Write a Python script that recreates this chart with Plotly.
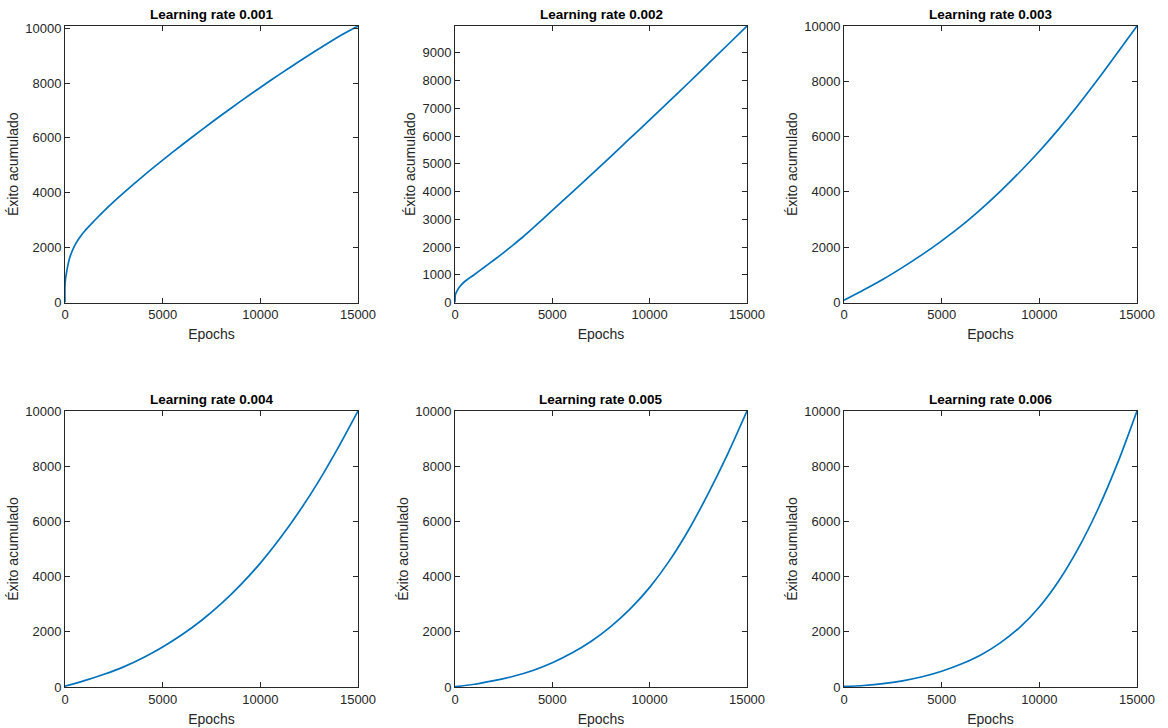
import plotly.graph_objects as go

# ---- data ----
titles = ["Learning rate 0.001", "Learning rate 0.002", "Learning rate 0.003",
          "Learning rate 0.004", "Learning rate 0.005", "Learning rate 0.006"]

x_lr1 = [0, 5, 100, 250, 500, 750, 1000, 1500, 2000, 2500, 3000, 4000, 5000, 6000, 7000,
         8000, 9000, 10000, 11000, 12000, 13000, 14000, 15000]
y_lr1 = [0, 700, 1180, 1650, 2080, 2370, 2600, 2980, 3340, 3680, 4000, 4610, 5190, 5750, 6295,
         6825, 7340, 7840, 8325, 8795, 9250, 9690, 10080]

x_lr2 = [0, 20, 85, 250, 500, 1000, 1500, 2000, 2500, 3000, 3500, 4000, 4500, 5000, 6000,
         7000, 8000, 9000, 10000, 11000, 12000, 13000, 14000, 15000]
y_lr2 = [0, 280, 390, 575, 757, 1010, 1270, 1530, 1800, 2080, 2370, 2680, 3000, 3320, 3960,
         4610, 5260, 5920, 6580, 7250, 7920, 8600, 9280, 9965]

x_step = [0, 1000, 2000, 3000, 4000, 5000, 6000, 7000, 8000, 9000, 10000, 11000, 12000,
          13000, 14000, 15000]
y_lr3 = [80, 450, 840, 1270, 1730, 2230, 2770, 3370, 4020, 4720, 5470, 6280, 7150, 8070, 9030, 10000]
y_lr4 = [30, 230, 460, 730, 1060, 1450, 1900, 2420, 3020, 3710, 4490, 5380, 6370, 7470, 8690, 10000]
y_lr5 = [10, 100, 230, 390, 600, 880, 1230, 1660, 2190, 2830, 3610, 4560, 5690, 7000, 8430, 10000]
y_lr6 = [20, 55, 120, 225, 370, 570, 830, 1160, 1600, 2160, 2900, 3850, 5030, 6440, 8100, 10000]

series = [(x_lr1, y_lr1), (x_lr2, y_lr2), (x_step, y_lr3),
          (x_step, y_lr4), (x_step, y_lr5), (x_step, y_lr6)]

y_ticks = [
    [0, 2000, 4000, 6000, 8000, 10000],
    [0, 1000, 2000, 3000, 4000, 5000, 6000, 7000, 8000, 9000],
    [0, 2000, 4000, 6000, 8000, 10000],
    [0, 2000, 4000, 6000, 8000, 10000],
    [0, 2000, 4000, 6000, 8000, 10000],
    [0, 2000, 4000, 6000, 8000, 10000],
]
x_ticks = [0, 5000, 10000, 15000]

# ---- layout geometry (pixels) ----
W, H = 1168, 728
col_px = [(65, 358), (455, 747), (844, 1137)]
row_px = [(26, 302.5), (411, 687)]

FONT = "Liberation Sans, Arial, Helvetica, sans-serif"
AX = "#262626"
BLUE = "#0072BD"

fig = go.Figure()
layout = dict(width=W, height=H, margin=dict(l=0, r=0, t=0, b=0),
              paper_bgcolor="white", plot_bgcolor="white", showlegend=False,
              font=dict(family=FONT, color=AX, size=13))
annotations = []

for i, ((xs, ys), title) in enumerate(zip(series, titles)):
    r, c = divmod(i, 3)
    n = i + 1
    xa = "x" if n == 1 else f"x{n}"
    ya = "y" if n == 1 else f"y{n}"
    fig.add_trace(go.Scatter(x=xs, y=ys, mode="lines", xaxis=xa, yaxis=ya,
                             line=dict(color=BLUE, width=1.7, shape="spline", smoothing=0.8),
                             hoverinfo="x+y"))
    x0, x1 = col_px[c]
    t, b = row_px[r]
    common = dict(showline=True, mirror="ticks", linecolor=AX, linewidth=1,
                  ticks="inside", ticklen=5, tickcolor=AX, tickwidth=1,
                  showgrid=False, zeroline=False, automargin=False,
                  tickfont=dict(family=FONT, size=13, color=AX))
    layout["xaxis" if n == 1 else f"xaxis{n}"] = dict(
        domain=[x0 / W, x1 / W], anchor=ya, range=[0, max(xs)],
        tickvals=x_ticks, ticktext=[str(v) for v in x_ticks],
        title=dict(text="Epochs", font=dict(family=FONT, size=14, color=AX), standoff=8),
        **common)
    layout["yaxis" if n == 1 else f"yaxis{n}"] = dict(
        domain=[1 - b / H, 1 - t / H], anchor=xa, range=[0, max(ys)],
        tickvals=y_ticks[i], ticktext=[str(v) for v in y_ticks[i]],
        title=dict(text="Éxito acumulado", font=dict(family=FONT, size=14, color=AX), standoff=3),
        **common)
    annotations.append(dict(text=f"<b>{title}</b>", x=(x0 + x1) / 2 / W, y=1 - (t - 12) / H,
                            xref="paper", yref="paper", showarrow=False,
                            xanchor="center", yanchor="middle",
                            font=dict(family=FONT, size=13.5, color="#000000")))

layout["annotations"] = annotations
fig.update_layout(**layout)
fig.write_html("out.html", config={"displayModeBar": False},
               post_script="document.body.style.margin='0';document.body.style.overflow='hidden';")
